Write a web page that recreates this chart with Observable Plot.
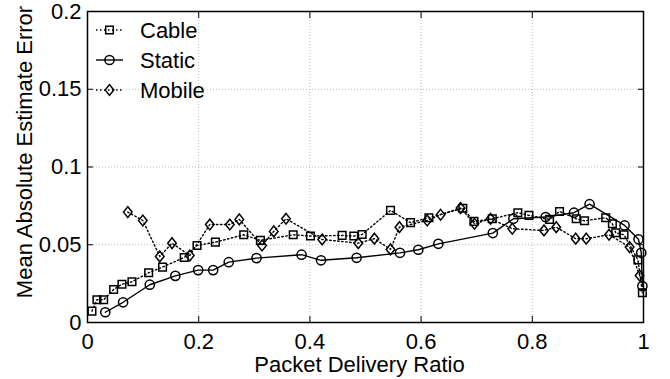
<!DOCTYPE html>
<html>
<head>
<meta charset="utf-8">
<script src="https://cdn.jsdelivr.net/npm/d3@7"></script>
<script src="https://cdn.jsdelivr.net/npm/@observablehq/plot@0.6"></script>
<style>
  html, body { margin: 0; padding: 0; background: #fff; }
  svg { display: block; }
</style>
</head>
<body>
<div id="chart"></div>
<script>
// Mean absolute estimate error versus packet delivery ratio, three link types.
const cableX = [0.008, 0.017, 0.029, 0.047, 0.062, 0.080, 0.110, 0.135, 0.174, 0.197, 0.230, 0.281, 0.311, 0.370, 0.401, 0.458, 0.479, 0.494, 0.545, 0.581, 0.614, 0.675, 0.695, 0.728, 0.774, 0.794, 0.831, 0.849, 0.879, 0.894, 0.932, 0.944, 0.950, 0.965, 0.990, 0.998];
const cableY = [0.0073, 0.0146, 0.0146, 0.0212, 0.0246, 0.0262, 0.0320, 0.0356, 0.0418, 0.0495, 0.0517, 0.0564, 0.0528, 0.0564, 0.0556, 0.0560, 0.0556, 0.0566, 0.0721, 0.0642, 0.0674, 0.0735, 0.0650, 0.0667, 0.0706, 0.0689, 0.0663, 0.0714, 0.0667, 0.0654, 0.0674, 0.0635, 0.0577, 0.0564, 0.0403, 0.0191];

const staticX = [0.032, 0.064, 0.112, 0.158, 0.199, 0.226, 0.254, 0.304, 0.385, 0.420, 0.484, 0.562, 0.595, 0.631, 0.729, 0.766, 0.824, 0.875, 0.903, 0.966, 0.991, 0.996, 0.998];
const staticY = [0.0066, 0.0130, 0.0243, 0.0300, 0.0337, 0.0337, 0.0388, 0.0414, 0.0436, 0.0400, 0.0416, 0.0448, 0.0468, 0.0506, 0.0575, 0.0667, 0.0678, 0.0706, 0.0761, 0.0624, 0.0535, 0.0448, 0.0234];

const mobileX = [0.0725, 0.0995, 0.130, 0.152, 0.184, 0.220, 0.256, 0.273, 0.314, 0.335, 0.357, 0.422, 0.487, 0.516, 0.545, 0.561, 0.611, 0.635, 0.671, 0.696, 0.725, 0.764, 0.821, 0.843, 0.878, 0.897, 0.938, 0.975, 0.993];
const mobileY = [0.0710, 0.0656, 0.0425, 0.0510, 0.0431, 0.0630, 0.0630, 0.0663, 0.0495, 0.0586, 0.0667, 0.0534, 0.0510, 0.0539, 0.0470, 0.0613, 0.0656, 0.0693, 0.0736, 0.0635, 0.0667, 0.0603, 0.0592, 0.0613, 0.0539, 0.0539, 0.0564, 0.0485, 0.0302];

const seriesNames = ["Cable", "Static", "Mobile"];
const xTicks = [0, 0.2, 0.4, 0.6, 0.8, 1];
const yTicks = [0, 0.05, 0.1, 0.15, 0.2];
const xTitle = "Packet Delivery Ratio";
const yTitle = "Mean Absolute Estimate Error";

const toRows = (xs, ys) => xs.map((x, i) => ({x, y: ys[i]}));
const cable = toRows(cableX, cableY);
const stat = toRows(staticX, staticY);
const mobile = toRows(mobileX, mobileY);

// Diamond marker, a little taller than wide
const diamond = {
  draw(ctx, size) {
    const r = Math.sqrt(size / Math.PI);
    const h = r * 1.25, w = r * 1.0;
    ctx.moveTo(0, -h); ctx.lineTo(w, 0); ctx.lineTo(0, h); ctx.lineTo(-w, 0); ctx.closePath();
  }
};

const styles = [
  {data: cable, dash: "1.5,2.5", symbol: "square", r: 4.3},
  {data: stat, dash: null, symbol: "circle", r: 4.6},
  {data: mobile, dash: "1.5,2.5", symbol: diamond, r: 4.3}
];

const fmt = d => String(d);
const FONT = "'Liberation Sans', Arial, Helvetica, sans-serif";

const marks = [
  Plot.gridX(xTicks.slice(1, -1), {stroke: "#aaa", strokeOpacity: 1, strokeDasharray: "1,2", strokeWidth: 0.8}),
  Plot.gridY(yTicks.slice(1, -1), {stroke: "#aaa", strokeOpacity: 1, strokeDasharray: "1,2", strokeWidth: 0.8}),
  // inward ticks on all four sides
  Plot.axisX(xTicks, {anchor: "bottom", tickSize: -6, tickFormat: () => "", label: null}),
  Plot.axisX(xTicks, {anchor: "top", tickSize: -6, tickFormat: () => "", label: null}),
  Plot.axisY(yTicks, {anchor: "left", tickSize: -6, tickFormat: () => "", label: null}),
  Plot.axisY(yTicks, {anchor: "right", tickSize: -6, tickFormat: () => "", label: null}),
  // tick labels
  Plot.axisX(xTicks, {anchor: "bottom", tickSize: 0, tickPadding: 11, tickFormat: fmt, label: null, fontSize: 22}),
  Plot.axisY(yTicks, {anchor: "left", tickSize: 0, tickPadding: 6, tickFormat: fmt, label: null, fontSize: 22}),
  Plot.frame({stroke: "black", strokeWidth: 1.5}),
  Plot.text([xTitle], {frameAnchor: "bottom", dy: 34, dx: -6, lineAnchor: "top", textAnchor: "middle", fontSize: 22, text: d => d}),
  Plot.text([yTitle], {frameAnchor: "left", dx: -63, dy: -15, rotate: -90, lineAnchor: "middle", textAnchor: "middle", fontSize: 22, text: d => d})
];

for (const s of styles) {
  marks.push(Plot.line(s.data, {x: "x", y: "y", stroke: "black", strokeWidth: 1.4, strokeDasharray: s.dash}));
  marks.push(Plot.dot(s.data, {x: "x", y: "y", symbol: s.symbol, r: s.r, stroke: "black", strokeWidth: 1.5, fill: "none"}));
}

const chart = Plot.plot({
  width: 670,
  height: 379,
  marginLeft: 87,
  marginRight: 27,
  marginTop: 11,
  marginBottom: 57,
  style: {fontFamily: FONT, fontSize: "22px", color: "black", background: "white"},
  x: {domain: [0, 1]},
  y: {domain: [0, 0.2]},
  marks
});

// Legend in the upper-left corner of the frame
const svg = d3.select(chart);
const left = 87;
const legend = svg.append("g")
  .attr("font-family", FONT).attr("font-size", 22).attr("text-anchor", "start");
styles.forEach((s, i) => {
  const cy = 30 + i * 30;
  legend.append("line")
    .attr("x1", left + 9).attr("x2", left + 36)
    .attr("y1", cy).attr("y2", cy)
    .attr("stroke", "black").attr("stroke-width", 1.4)
    .attr("stroke-dasharray", s.dash);
  const sym = typeof s.symbol === "string" ? (s.symbol === "square" ? d3.symbolSquare : d3.symbolCircle) : s.symbol;
  legend.append("path")
    .attr("transform", `translate(${left + 22.5},${cy})`)
    .attr("d", d3.symbol(sym, s.r * s.r * Math.PI)())
    .attr("fill", "none").attr("stroke", "black").attr("stroke-width", 1.5);
  legend.append("text")
    .attr("x", left + 53).attr("y", cy).attr("dy", "0.35em")
    .attr("fill", "black")
    .text(seriesNames[i]);
});

document.getElementById("chart").appendChild(chart);
</script>
</body>
</html>
